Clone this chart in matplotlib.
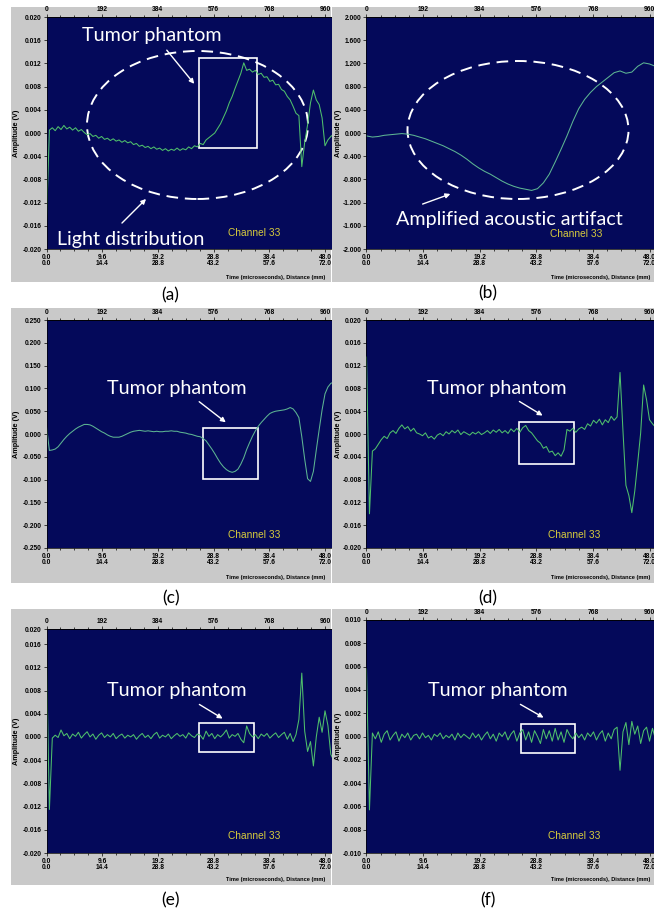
import numpy as np
import matplotlib
matplotlib.use("Agg")
import matplotlib.pyplot as plt
from matplotlib.patches import Ellipse, Rectangle

# axis labels shared by all six traces
sample_ticks = [0, 192, 384, 576, 768, 960]
time_labels = ["0.0", "9.6", "19.2", "28.8", "38.4", "48.0"]
dist_labels = ["0.0", "14.4", "28.8", "43.2", "57.6", "72.0"]
channel = "Channel 33"

# traces, one value every `step` samples
a_step = 10
a_v = [-0.0150, 0.0005, 0.0009, 0.0004, 0.0011, 0.0006, 0.0013, 0.0007, 0.0010, 0.0005,
       0.0009, 0.0003, 0.0006, 0.0001, -0.0003, -0.0001, -0.0006, -0.0004, -0.0009, -0.0006,
       -0.0011, -0.0009, -0.0013, -0.0010, -0.0014, -0.0012, -0.0016, -0.0013, -0.0017, -0.0015,
       -0.0020, -0.0018, -0.0023, -0.0021, -0.0025, -0.0023, -0.0027, -0.0024, -0.0028, -0.0026,
       -0.0030, -0.0027, -0.0031, -0.0028, -0.0030, -0.0026, -0.0030, -0.0027, -0.0029, -0.0024,
       -0.0027, -0.0022, -0.0024, -0.0018, -0.0020, -0.0012, -0.0008, -0.0004, 0.0000, 0.0008,
       0.0016, 0.0027, 0.0038, 0.0052, 0.0063, 0.0077, 0.0090, 0.0103, 0.0121, 0.0108,
       0.0110, 0.0105, 0.0108, 0.0101, 0.0103, 0.0096, 0.0097, 0.0089, 0.0091, 0.0083,
       0.0084, 0.0075, 0.0072, 0.0063, 0.0057, 0.0046, 0.0034, 0.0030, -0.0058, -0.0016,
       0.0014, 0.0052, 0.0074, 0.0057, 0.0049, 0.0026, -0.0022, -0.0012, -0.0006, -0.0002,
       0.0000]

b_step = 20
b_v = [-0.05, -0.07, -0.06, -0.04, -0.03, -0.02, -0.01, -0.02, -0.04, -0.07,
       -0.10, -0.14, -0.18, -0.22, -0.27, -0.32, -0.38, -0.45, -0.53, -0.60,
       -0.66, -0.71, -0.77, -0.83, -0.88, -0.92, -0.95, -0.97, -0.99, -0.96,
       -0.86, -0.71, -0.50, -0.28, -0.05, 0.20, 0.42, 0.58, 0.70, 0.80,
       0.88, 0.96, 1.04, 1.07, 1.03, 1.05, 1.15, 1.21, 1.19, 1.15,
       1.12]

c_step = 10
c_v = [0.016, -0.036, -0.035, -0.033, -0.028, -0.020, -0.012, -0.005, 0.001, 0.006,
       0.011, 0.015, 0.018, 0.021, 0.021, 0.020, 0.017, 0.013, 0.009, 0.005,
       0.002, -0.002, -0.005, -0.007, -0.007, -0.007, -0.005, -0.002, 0.001, 0.004,
       0.006, 0.007, 0.008, 0.007, 0.006, 0.007, 0.006, 0.005, 0.006, 0.005,
       0.005, 0.006, 0.006, 0.007, 0.006, 0.006, 0.004, 0.003, 0.002, 0.000,
       -0.001, -0.003, -0.005, -0.006, -0.010, -0.015, -0.024, -0.033, -0.043, -0.054,
       -0.064, -0.072, -0.078, -0.082, -0.084, -0.082, -0.077, -0.066, -0.052, -0.034,
       -0.019, -0.005, 0.007, 0.017, 0.025, 0.032, 0.039, 0.045, 0.048, 0.050,
       0.051, 0.052, 0.053, 0.055, 0.058, 0.055, 0.047, 0.036, -0.006, -0.055,
       -0.098, -0.104, -0.082, -0.035, 0.010, 0.053, 0.088, 0.103, 0.111, 0.114,
       0.116]

d_step = 10
d_v = [0.0135, -0.0140, -0.0030, -0.0026, -0.0018, -0.0010, -0.0004, -0.0008, 0.0002, 0.0006,
       0.0001, 0.0010, 0.0016, 0.0009, 0.0013, 0.0005, 0.0010, 0.0002, 0.0000, -0.0003,
       0.0002, -0.0007, -0.0004, -0.0009, -0.0002, 0.0001, -0.0003, 0.0004, 0.0000, 0.0006,
       0.0002, 0.0007, -0.0001, 0.0004, 0.0001, -0.0002, 0.0003, 0.0000, 0.0004, -0.0001,
       0.0002, 0.0006, 0.0001, 0.0007, 0.0003, 0.0008, 0.0002, 0.0006, 0.0001, 0.0009,
       0.0004, 0.0010, 0.0003, 0.0011, 0.0015, 0.0006, 0.0002, -0.0005, -0.0012, -0.0016,
       -0.0025, -0.0022, -0.0032, -0.0030, -0.0038, -0.0033, -0.0039, -0.0028, 0.0008, 0.0005,
       0.0010, 0.0003, 0.0009, 0.0012, 0.0008, 0.0018, 0.0014, 0.0024, 0.0019, 0.0026,
       0.0016, 0.0025, 0.0020, 0.0031, 0.0024, 0.0030, 0.0108, 0.0005, -0.0090, -0.0108,
       -0.0138, -0.0100, -0.0050, 0.0002, 0.0086, 0.0060, 0.0025, 0.0018, 0.0012, 0.0010,
       0.0008]

e_step = 10
e_v = [0.0135, -0.0125, -0.0002, 0.0003, -0.0001, 0.0012, 0.0002, 0.0006, -0.0003, 0.0005,
       0.0001, 0.0008, -0.0002, 0.0004, 0.0009, 0.0000, 0.0005, -0.0004, 0.0003, 0.0007,
       -0.0001, 0.0004, 0.0000, 0.0006, -0.0003, 0.0002, 0.0005, -0.0002, 0.0003, 0.0000,
       0.0004, -0.0004, 0.0002, 0.0006, -0.0001, 0.0003, -0.0003, 0.0004, 0.0008, -0.0002,
       0.0003, 0.0000, 0.0005, -0.0003, 0.0002, 0.0006, 0.0001, 0.0004, -0.0002, 0.0007,
       0.0002, -0.0001, 0.0005, 0.0003, -0.0004, 0.0010, 0.0001, 0.0006, -0.0003, 0.0004,
       0.0000, 0.0005, 0.0012, -0.0002, 0.0004, 0.0001, 0.0006, -0.0004, -0.0010, 0.0019,
       0.0006, 0.0000, 0.0004, -0.0003, 0.0005, 0.0001, 0.0006, -0.0002, 0.0003, 0.0007,
       -0.0001, 0.0004, 0.0008, -0.0004, 0.0006, -0.0008, 0.0004, 0.0030, 0.0110, 0.0010,
       -0.0025, -0.0008, -0.0050, 0.0000, 0.0034, 0.0008, 0.0045, 0.0020, -0.0030, -0.0040,
       -0.0015]

f_step = 10
f_v = [0.0058, -0.0063, 0.0003, -0.0002, 0.0004, -0.0005, 0.0002, 0.0005, -0.0003, 0.0001,
       0.0004, -0.0004, 0.0002, -0.0001, 0.0003, -0.0003, 0.0001, 0.0002, -0.0002, 0.0003,
       -0.0001, 0.0001, -0.0003, 0.0002, 0.0000, 0.0003, -0.0002, 0.0001, -0.0001, 0.0002,
       -0.0003, 0.0003, -0.0001, 0.0002, 0.0000, -0.0002, 0.0003, -0.0001, 0.0002, -0.0003,
       0.0001, 0.0004, -0.0002, 0.0002, -0.0004, 0.0003, 0.0000, 0.0004, -0.0003, 0.0002,
       0.0005, -0.0004, 0.0003, 0.0006, -0.0003, 0.0004, -0.0005, 0.0005, 0.0000, -0.0006,
       0.0006, -0.0002, 0.0005, -0.0004, 0.0007, -0.0003, 0.0004, -0.0005, 0.0006, 0.0001,
       -0.0002, 0.0003, -0.0001, 0.0002, -0.0003, 0.0003, 0.0000, 0.0004, -0.0003, 0.0002,
       0.0005, -0.0004, 0.0003, -0.0002, 0.0006, 0.0008, -0.0029, 0.0004, 0.0012, -0.0007,
       0.0013, 0.0002, 0.0009, -0.0006, 0.0005, 0.0008, -0.0004, 0.0007, -0.0002, 0.0006,
       0.0001]

W, H = 654, 908
GREY = "#c9c9c9"
NAVY = "#04095a"
GREEN = "#4fc06c"
TEAL = "#5db593"
YELLOW = "#d8cc3c"
FONT = "Lato"
TICKFONT = "Liberation Sans"
BIG = 14.2

fig = plt.figure(figsize=(W / 100, H / 100), dpi=100)
fig.patch.set_facecolor("white")


def ff(x, y):
    return (x / W, 1 - y / H)


def rect_px(l, t, r, b):
    return [l / W, 1 - b / H, (r - l) / W, (b - t) / H]


def bg_panel(l, t, r, b, z):
    bg = fig.add_axes(rect_px(l, t, r, b), zorder=z)
    bg.set_facecolor(GREY)
    bg.set_xticks([])
    bg.set_yticks([])
    for s in bg.spines.values():
        s.set_visible(False)
    return bg


def trace_panel(col, top, bottom, step, vals, ylim, yticks, ylabels, color, z):
    if col == 0:
        left, scale, lab_x = 46.5, 0.2901, 16
    else:
        left, scale, lab_x = 366.5, 0.2948, 338
    ax = fig.add_axes(rect_px(left, top, left + 300, bottom), zorder=z)
    ax.set_facecolor(NAVY)
    t = np.arange(len(vals)) * step
    ax.plot(t, vals, color=color, lw=0.75)
    ax.set_xlim(0, 300 / scale)
    ax.set_ylim(*ylim)
    ax.set_yticks(yticks)
    ax.set_yticklabels(ylabels, fontsize=4.8, fontweight="bold", family=TICKFONT)
    ax.set_xticks(sample_ticks)
    ax.set_xticklabels([a + "\n" + b for a, b in zip(time_labels, dist_labels)],
                       fontsize=4.8, fontweight="bold", family=TICKFONT, linespacing=0.9)
    ax.set_xticks(np.arange(0, 1000, 48), minor=True)
    ax.tick_params(which="both", direction="out", length=2, width=0.5, pad=1.5, colors="black")
    ax.tick_params(which="minor", length=1.2)
    top_ax = ax.secondary_xaxis("top")
    top_ax.set_xticks(sample_ticks)
    top_ax.set_xticklabels([str(s) for s in sample_ticks], fontsize=4.8, fontweight="bold",
                           family=TICKFONT)
    top_ax.set_xticks(np.arange(0, 1000, 48), minor=True)
    top_ax.tick_params(which="both", direction="out", length=2, width=0.5, pad=1.0)
    top_ax.tick_params(which="minor", length=1.2)
    for s in ax.spines.values():
        s.set_linewidth(0.5)
    for s in top_ax.spines.values():
        s.set_linewidth(0.5)
    ax.text(*ff(lab_x, (top + bottom) / 2), "Amplitude (V)", transform=fig.transFigure,
            rotation=90, fontsize=5.2, fontweight="bold", family=TICKFONT,
            ha="center", va="center")
    return ax


def arrow(ax, tail, head):
    ax.annotate("", xy=ff(*head), xytext=ff(*tail), xycoords="figure fraction",
                textcoords="figure fraction",
                arrowprops=dict(arrowstyle="-|>", color="white", lw=1.0, mutation_scale=7))


def tumor(ax, tx, ty, tail, head, box):
    ax.text(*ff(tx, ty), "Tumor phantom", transform=fig.transFigure, color="white",
            fontsize=BIG, family=FONT, ha="center", va="baseline")
    arrow(ax, tail, head)
    l, t, r, b = box
    ax.add_patch(Rectangle(ff(l, b), (r - l) / W, (b - t) / H, transform=fig.transFigure,
                           fill=False, ec="white", lw=1.2, clip_on=False))


def channel_text(ax, x, y):
    ax.text(*ff(x, y), channel, transform=fig.transFigure, color=YELLOW,
            fontsize=7.3, family="Liberation Sans", ha="left", va="baseline")


def xlabel_text(bg, x, y):
    bg.text(*ff(x, y), "Time (microseconds), Distance (mm)", transform=fig.transFigure,
            fontsize=4.1, fontweight="bold", family=TICKFONT, ha="right", va="center")


def y_axis(lo, hi, n):
    pos = list(np.linspace(lo, hi, n))
    return pos, ["%.3f" % p for p in pos]


rows = [(7, 282), (308, 583), (609, 885)]
bgs = []
for (t, b) in rows:
    bgs.append((bg_panel(11, t, 331, b, 0), bg_panel(332, t, 660, b, 2)))

# (a)
yt, yl = y_axis(-0.02, 0.02, 11)
ax_a = trace_panel(0, 17, 249, a_step, a_v, (-0.02, 0.02), yt, yl, GREEN, 1)
ax_a.add_patch(Ellipse(ff(197.5, 125), 221 / W, 148 / H, transform=fig.transFigure, fill=False,
                       ec="white", lw=1.4, ls=(0, (6, 3.5))))
tumor(ax_a, 152, 41, (165, 48), (196, 86), (199, 58, 257, 148))
ax_a.text(*ff(57, 245), "Light distribution", transform=fig.transFigure, color="white",
          fontsize=BIG, family=FONT, ha="left", va="baseline")
arrow(ax_a, (120, 225), (148, 197))
channel_text(ax_a, 228, 236)
xlabel_text(bgs[0][0], 325, 277)

# (b)
yt, yl = y_axis(-2.0, 2.0, 11)
ax_b = trace_panel(1, 17, 249, b_step, b_v, (-2.0, 2.0), yt, yl, TEAL, 3)
ax_b.add_patch(Ellipse(ff(518, 130), 221 / W, 138 / H, transform=fig.transFigure, fill=False,
                       ec="white", lw=1.4, ls=(0, (6, 3.5))))
ax_b.text(*ff(509, 225), "Amplified acoustic artifact", transform=fig.transFigure, color="white",
          fontsize=BIG, family=FONT, ha="center", va="baseline")
arrow(ax_b, (420, 205), (453, 193))
channel_text(ax_b, 550, 237)
xlabel_text(bgs[0][1], 650, 277)

# (c)
yt, yl = y_axis(-0.25, 0.25, 11)
ax_c = trace_panel(0, 320, 548, c_step, c_v, (-0.25, 0.25), yt, yl, TEAL, 1)
tumor(ax_c, 177, 394, (197, 400), (228, 424), (203, 428, 258, 479))
channel_text(ax_c, 228, 538)
xlabel_text(bgs[1][0], 325, 578)

# (d)
yt, yl = y_axis(-0.02, 0.02, 11)
ax_d = trace_panel(1, 320, 548, d_step, d_v, (-0.02, 0.02), yt, yl, GREEN, 3)
tumor(ax_d, 497, 394, (517, 400), (545, 417), (519, 422, 574, 464))
channel_text(ax_d, 548, 538)
xlabel_text(bgs[1][1], 650, 578)

# (e) - top of this screenshot is cut a little, the top label sits on the edge
yt, yl = y_axis(-0.02, 0.016, 10)
yt.append(0.0186)
yl.append("0.020")
ax_e = trace_panel(0, 629, 853, e_step, e_v, (-0.02, 0.0186), yt, yl, GREEN, 1)
tumor(ax_e, 177, 696, (197, 703), (225, 720), (199, 723, 254, 752))
channel_text(ax_e, 228, 839)
xlabel_text(bgs[2][0], 325, 880)

# (f)
yt, yl = y_axis(-0.01, 0.01, 11)
ax_f = trace_panel(1, 620, 853, f_step, f_v, (-0.01, 0.01), yt, yl, GREEN, 3)
tumor(ax_f, 498, 696, (518, 703), (546, 719), (521, 724, 575, 753))
channel_text(ax_f, 548, 839)
xlabel_text(bgs[2][1], 650, 880)

for lab, x, y in [("(a)", 170, 295), ("(b)", 488, 293), ("(c)", 171, 598),
                  ("(d)", 488, 598), ("(e)", 171, 900), ("(f)", 488, 900)]:
    fig.text(*ff(x, y), lab, fontsize=12.5, family=FONT, ha="center", va="center")

fig.savefig("out.png", dpi=100)
